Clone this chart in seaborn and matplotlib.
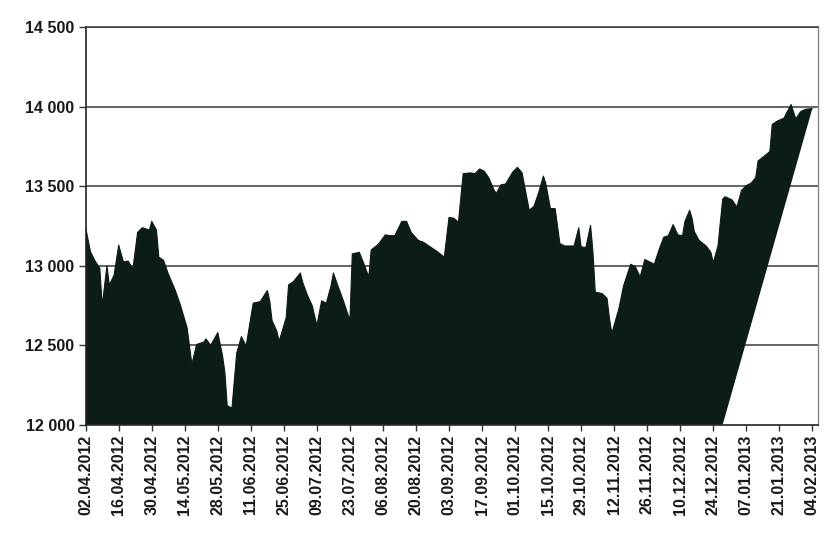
import numpy as np
import pandas as pd
import matplotlib
matplotlib.use("Agg")
import matplotlib.pyplot as plt
import matplotlib.dates as mdates
from matplotlib.ticker import FuncFormatter
import seaborn as sns

# ---- data ----
start_date = "2012-04-02"
day_offsets = [0, 2, 4, 6, 7, 9, 10, 12, 14, 16, 18, 20, 22, 24, 27, 28, 30, 31, 33, 35,
               38, 40, 43, 45, 47, 50, 51, 53, 56, 58, 59, 60, 62, 64, 66, 68,
               71, 74, 77, 78, 79, 81, 82, 85, 86, 88, 91, 92, 94, 96, 98, 100, 102, 104,
               105, 107, 109, 111, 112, 113, 116, 118, 120, 121, 124, 127, 129, 131, 134, 136,
               138, 141, 143, 146, 149, 152, 154, 156, 158, 160, 163, 165, 167, 169, 171, 173,
               174, 176, 178, 181, 183, 185, 186, 188, 190, 192, 194, 195, 197, 199, 201, 203,
               207, 209, 210, 212, 214, 215, 216, 219, 221, 222, 223, 226, 228, 231, 233, 235,
               237, 239, 241, 243, 245, 247, 249, 251, 253, 254, 256, 257, 258, 260, 263, 265,
               266, 268, 270, 271, 274, 276, 278, 280, 282, 284, 285, 288, 290, 291, 293, 296,
               297, 299, 300, 301, 303, 305, 308]
index_values = [13240, 13090, 13030, 12985, 12750, 13000, 12880, 12940, 13130, 13025, 13030, 12980,
                13210, 13240, 13225, 13280, 13225, 13055, 13035, 12950,
                12845, 12760, 12610, 12380, 12505, 12520, 12540, 12500, 12580, 12435, 12330, 12120,
                12105, 12450, 12555, 12495,
                12765, 12775, 12845, 12780, 12655, 12590, 12525, 12675, 12880, 12900, 12955, 12895,
                12815, 12750, 12625, 12780, 12765, 12875,
                12955, 12870, 12790, 12700, 12660, 13075, 13085, 13010, 12930, 13100, 13135, 13195,
                13190, 13190, 13280, 13280,
                13210, 13160, 13150, 13120, 13090, 13055, 13305, 13300, 13275, 13580, 13585, 13580,
                13610, 13595, 13550, 13480,
                13455, 13510, 13515, 13590, 13620, 13585, 13505, 13350, 13375, 13460, 13565, 13520,
                13360, 13360, 13140, 13125,
                13125, 13240, 13120, 13115, 13255, 13090, 12835, 12825, 12795, 12670, 12575, 12730,
                12875, 13010, 12995, 12930,
                13040, 13025, 13010, 13100, 13180, 13190, 13260, 13195, 13190, 13280, 13350, 13300,
                13215, 13160, 13125, 13085,
                13020, 13125, 13420, 13435, 13415, 13370, 13475, 13505, 13520, 13555, 13660, 13695,
                13720, 13890, 13910, 13930,
                13960, 14015, 13970, 13925, 13970, 13985, 13990]
break_offset = 270          # where the filled area's lower edge leaves the baseline
baseline = 12000
y_ticks = [12000, 12500, 13000, 13500, 14000, 14500]
tick_step_days = 14
tick_count = 23

# ---- styling ----
sns.set_theme(style="ticks")
plt.rcParams["font.family"] = ["Liberation Sans", "DejaVu Sans"]

fill_color = "#0c1d15"
dates = pd.Timestamp(start_date) + pd.to_timedelta(day_offsets, unit="D")
break_date = pd.Timestamp(start_date) + pd.Timedelta(days=break_offset)
tick_dates = pd.Timestamp(start_date) + pd.to_timedelta(
    np.arange(tick_count) * tick_step_days, unit="D")

fig = plt.figure(figsize=(8.24, 5.39), dpi=100)
ax = fig.add_axes([0.104, 0.212, 0.889, 0.737])

# grid lines
for yv in y_ticks[1:]:
    ax.axhline(yv, color="#3a3a3a", lw=1.1, zorder=0)

df = pd.DataFrame({"date": dates, "value": index_values})

# filled area: baseline -> data profile -> back down to baseline at the break date
poly_x = mdates.date2num(np.concatenate([[dates[0]], dates.to_pydatetime(), [break_date]]))
poly_y = np.concatenate([[baseline], index_values, [baseline]])
ax.fill(poly_x, poly_y, color=fill_color, lw=0, zorder=2)
sns.lineplot(data=df, x="date", y="value", color=fill_color, lw=0.8, ax=ax, zorder=3)

ax.set_xlim(mdates.date2num(pd.Timestamp(start_date)),
            mdates.date2num(tick_dates[-1] + pd.Timedelta(days=2.5)))
ax.set_ylim(12000, 14500)
ax.set_yticks(y_ticks)
ax.yaxis.set_major_formatter(FuncFormatter(lambda v, _: f"{int(v):,}".replace(",", " ")))
ax.set_xticks(mdates.date2num(tick_dates))
ax.xaxis.set_major_formatter(mdates.DateFormatter("%d.%m.%Y"))
ax.set_xlabel("")
ax.set_ylabel("")

ax.tick_params(axis="x", rotation=90, labelsize=11.5, length=4, width=1,
               color="#333333", pad=3)
ax.tick_params(axis="y", labelsize=11.5, length=5, width=1, color="#333333", pad=3)
for lab in ax.get_xticklabels() + ax.get_yticklabels():
    lab.set_fontweight("bold")
    lab.set_color("#1a1a1a")

for side in ["left", "bottom"]:
    ax.spines[side].set_color("#222222")
    ax.spines[side].set_linewidth(1.2)
ax.spines["right"].set_visible(True)
ax.spines["right"].set_color("#888888")
ax.spines["right"].set_linewidth(1.0)
ax.spines["top"].set_visible(True)
ax.spines["top"].set_color("#3a3a3a")
ax.spines["top"].set_linewidth(1.1)

fig.savefig("out.png", dpi=100, facecolor="white")
